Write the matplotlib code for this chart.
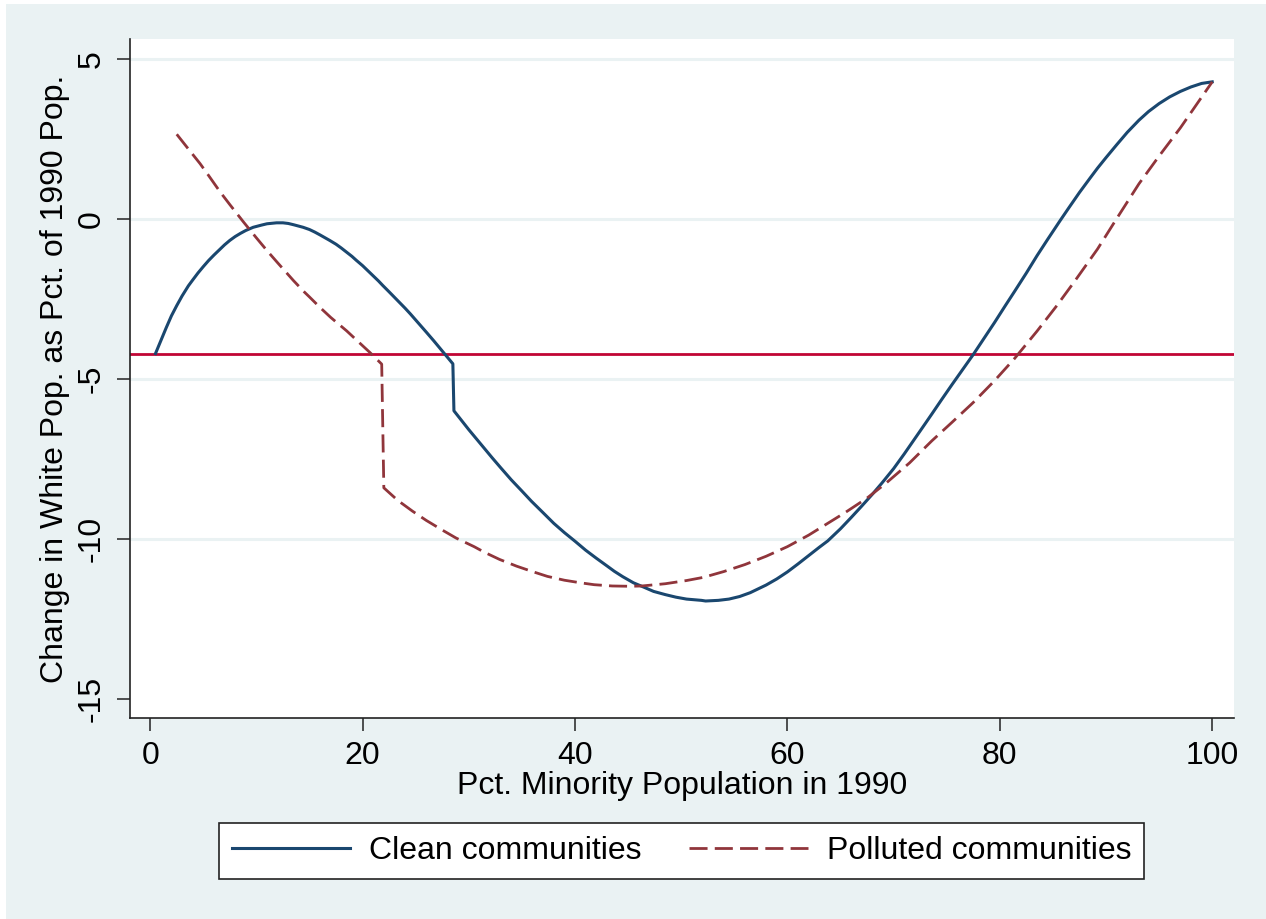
import matplotlib
matplotlib.use("Agg")
import matplotlib.pyplot as plt
from matplotlib.patches import Rectangle

plt.rcParams['font.family'] = ['Liberation Sans', 'DejaVu Sans']

# Clean communities
clean_x = [0.5, 1.0, 1.5, 2.0, 2.5, 3.0, 3.6, 4.0, 4.5, 5.0, 5.5, 6.0, 6.5, 7.0, 7.5,
           8.0, 8.5, 9.0, 9.7, 10.5, 11.0, 11.9, 12.5, 13.0, 13.5, 14.4, 15.0, 15.5,
           16.0, 16.9, 17.5, 18.0, 18.5, 19.0, 19.4, 20.0, 20.5, 21.0, 21.5, 21.9,
           22.5, 23.0, 23.5, 24.0, 24.5, 25.0, 25.5, 26.0, 26.7, 27.0, 27.5, 28.0, 28.5,
           28.6, 30.0, 31.0, 32.2, 33.0, 34.0, 35.0, 35.9, 37.0, 38.0, 39.0, 40.0,
           41.0, 42.0, 43.0, 43.7, 44.5, 45.5, 46.5, 47.4, 48.5, 49.5, 50.5, 51.9,
           52.3, 53.5, 54.5, 55.5, 56.5, 57.5, 58.0, 59.0, 60.0, 61.0, 62.0, 63.0,
           63.8, 65.0, 66.0, 67.0, 68.0, 68.9, 70.0, 71.0, 72.0, 73.0, 73.6, 74.5,
           75.5, 76.5, 77.5, 78.5, 79.5, 80.5, 81.4, 82.5, 83.5, 84.5, 85.7, 86.5,
           87.5, 88.5, 89.2, 90.0, 91.0, 92.0, 93.1, 94.0, 95.0, 96.0, 97.0, 98.0,
           99.0, 100.0]
clean_y = [-4.20, -3.80, -3.40, -3.02, -2.70, -2.40, -2.08, -1.90, -1.68, -1.48, -1.29,
           -1.12, -0.96, -0.80, -0.66, -0.54, -0.44, -0.35, -0.25, -0.18, -0.14, -0.11,
           -0.11, -0.13, -0.17, -0.25, -0.32, -0.40, -0.49, -0.66, -0.78, -0.90, -1.03,
           -1.16, -1.28, -1.45, -1.61, -1.77, -1.93, -2.07, -2.27, -2.44, -2.61, -2.78,
           -2.96, -3.15, -3.34, -3.53, -3.80, -3.92, -4.12, -4.32, -4.52,
           -5.99, -6.58, -6.98, -7.46, -7.77, -8.15, -8.50, -8.82, -9.18, -9.51, -9.80,
           -10.07, -10.35, -10.60, -10.84, -11.01, -11.18, -11.37, -11.51, -11.64,
           -11.74, -11.82, -11.88, -11.92, -11.94, -11.92, -11.88, -11.80, -11.68,
           -11.52, -11.44, -11.25, -11.03, -10.78, -10.52, -10.26, -10.06, -9.68, -9.33,
           -8.97, -8.60, -8.25, -7.80, -7.34, -6.86, -6.38, -6.09, -5.65, -5.17, -4.70,
           -4.23, -3.73, -3.23, -2.71, -2.25, -1.68, -1.14, -0.63, -0.03, 0.36, 0.84,
           1.29, 1.60, 1.93, 2.33, 2.72, 3.10, 3.37, 3.62, 3.83, 4.00, 4.14, 4.25, 4.30]

# Polluted communities
poll_x = [2.5, 3.5, 4.7, 5.5, 6.6, 7.5, 8.8, 10.0, 11.0, 12.0, 13.5, 14.5, 15.0, 16.0,
          17.0, 18.5, 19.5, 20.7, 21.8,
          22.0, 23.3, 24.7, 26.0, 27.5, 28.8, 30.5, 31.5, 32.9, 34.5, 36.0, 37.4, 39.0,
          40.5, 41.8, 43.5, 45.2, 46.3, 48.5, 50.5, 52.1, 54.0, 56.0, 58.0, 60.0,
          62.0, 63.8, 65.5, 67.5, 69.3, 71.5, 73.6, 75.5, 77.5, 79.5, 81.4, 83.5,
          85.3, 87.0, 89.2, 91.0, 93.1, 95.0, 97.0, 98.5, 100.0]
poll_y = [2.66, 2.24, 1.74, 1.37, 0.85, 0.46, -0.09, -0.58, -0.98, -1.36, -1.92, -2.27,
          -2.43, -2.76, -3.07, -3.49, -3.80, -4.17, -4.53,
          -8.40, -8.79, -9.13, -9.42, -9.72, -9.97, -10.24, -10.42, -10.64, -10.85,
          -11.02, -11.17, -11.29, -11.37, -11.43, -11.47, -11.48, -11.47, -11.40,
          -11.30, -11.20, -11.02, -10.80, -10.54, -10.24, -9.88, -9.51, -9.16, -8.72,
          -8.25, -7.62, -6.93, -6.35, -5.73, -5.05, -4.35, -3.50, -2.73, -1.96, -0.93,
          0.02, 1.11, 1.98, 2.86, 3.58, 4.30]

ref_y = -4.2
x_ticks = [0, 20, 40, 60, 80, 100]
y_ticks = [5, 0, -5, -10, -15]
grid_y = [5, 0, -5, -10]

W, H = 1266, 919
bg = '#EAF2F3'
FS = 23
fig = plt.figure(figsize=(W / 100, H / 100), dpi=100, facecolor='white')
fig.patches.append(Rectangle((6 / W, 0), 1 - 6 / W, (H - 4) / H, transform=fig.transFigure,
                             facecolor=bg, edgecolor='none', zorder=-10))

ax = fig.add_axes([130 / W, (H - 718) / H, (1234 - 130) / W, (718 - 39) / H])
ax.set_facecolor('white')
ax.set_xlim(-1.9, 102.05)
ax.set_ylim(-15.6, 5.64)

for g in grid_y:
    ax.axhline(g, color=bg, lw=2.2, zorder=0)

ax.axhline(ref_y, color='#C10534', lw=2.0, zorder=2)
ax.plot(clean_x, clean_y, color='#1A476F', lw=2.2, label='Clean communities', zorder=3,
        solid_joinstyle='round')
ax.plot(poll_x, poll_y, color='#90353B', lw=2.0, dashes=(6.5, 2.6),
        label='Polluted communities', zorder=3)

for s in ['top', 'right']:
    ax.spines[s].set_visible(False)
for s in ['left', 'bottom']:
    ax.spines[s].set_color('#222222')
    ax.spines[s].set_linewidth(1.2)

ax.set_xticks(x_ticks)
ax.set_yticks(y_ticks)
ax.set_yticklabels([str(v) for v in y_ticks], rotation=90, va='center')
ax.tick_params(axis='both', length=9.5, width=1.1, color='#222222', labelsize=FS)
ax.tick_params(axis='x', pad=7)
ax.tick_params(axis='y', pad=7)

ax.set_xlabel('Pct. Minority Population in 1990', fontsize=FS, labelpad=0)
ax.set_ylabel('Change in White Pop. as Pct. of 1990 Pop.', fontsize=FS, labelpad=5)

leg = ax.legend(loc='center', bbox_to_anchor=(681.5 / W, (H - 851) / H),
                bbox_transform=fig.transFigure, ncol=2, fontsize=FS, frameon=True,
                fancybox=False, edgecolor='#222222', handlelength=3.7,
                handletextpad=0.6, columnspacing=1.5, borderpad=0.4, framealpha=1)
leg.get_frame().set_linewidth(1.2)
leg.get_frame().set_facecolor('white')

fig.savefig('out.png', dpi=100, facecolor=fig.get_facecolor())
